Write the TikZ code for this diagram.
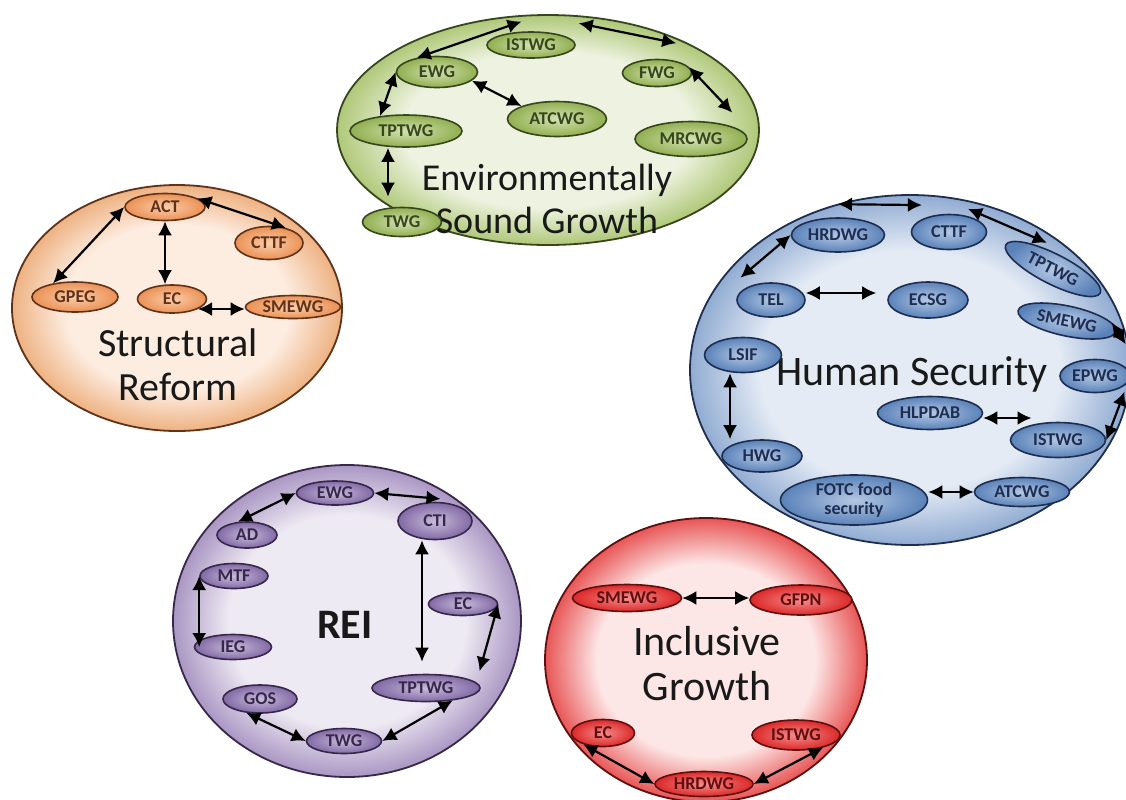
\documentclass[tikz,border=0pt]{standalone}
\usepackage{fontspec}
\setmainfont{Carlito}
\usetikzlibrary{shapes.geometric,arrows.meta}
\definecolor{glin}{RGB}{240,240,240}
\definecolor{glout}{RGB}{200,200,200}
\pgfdeclareradialshading[glin,glout]{glass}{\pgfpoint{0bp}{0bp}}{color(0bp)=(glin); color(17bp)=(glin); color(25bp)=(glout); color(50bp)=(glout)}
% group colours: line, small inner/outer, big inner/outer
\definecolor{gline}{RGB}{55,70,30}\definecolor{gin}{RGB}{210,226,178}\definecolor{gout}{RGB}{145,175,80}
\definecolor{gbin}{RGB}{238,243,225}\definecolor{gbout}{RGB}{175,200,120}
\definecolor{sline}{RGB}{95,50,25}\definecolor{sin}{RGB}{250,205,170}\definecolor{sout}{RGB}{235,145,85}
\definecolor{sbin}{RGB}{253,236,224}\definecolor{sbout}{RGB}{238,178,130}
\definecolor{hline}{RGB}{30,45,80}\definecolor{hin}{RGB}{180,200,228}\definecolor{hout}{RGB}{90,130,185}
\definecolor{hbin}{RGB}{228,235,245}\definecolor{hbout}{RGB}{145,172,210}
\definecolor{rline}{RGB}{55,40,75}\definecolor{rin}{RGB}{200,188,218}\definecolor{rout}{RGB}{130,105,165}
\definecolor{rbin}{RGB}{238,234,243}\definecolor{rbout}{RGB}{170,150,195}
\definecolor{iline}{RGB}{95,15,15}\definecolor{iin}{RGB}{245,140,140}\definecolor{iout}{RGB}{220,40,40}
\definecolor{ibin}{RGB}{253,230,230}\definecolor{ibout}{RGB}{232,85,85}
\begin{document}
\begin{tikzpicture}[x=0.5pt,y=-0.5pt,>={Latex[length=7pt,width=7pt]}]
    \tikzset{wg/.style={ellipse, inner sep=0pt, line width=0.8pt, draw=#1line, inner color=#1in, outer color=#1out,
                 text=#1line, align=center, font=\bfseries\fontsize{9}{9.5}\selectfont},
             wh/.style 2 args={minimum width=#1*0.5pt, minimum height=#2*0.5pt},
             bigc/.style={ellipse, inner sep=0pt, line width=0.9pt, draw=#1line, shading=glass},
             title/.style={align=center, text=black!90, font=\fontsize{20}{22}\selectfont},
             link/.style={<->, line width=1.1pt}}
    \useasboundingbox (0,0) rectangle (1126,799);
    % the five big circles
    \colorlet{glin}{gbin}\colorlet{glout}{gbout}
    \node[bigc=g, wh={422}{230}] (esg) at (548,130) {};
    \colorlet{glin}{sbin}\colorlet{glout}{sbout}
    \node[bigc=s, wh={330}{246}] (sr) at (177,308) {};
    \colorlet{glin}{hbin}\colorlet{glout}{hbout}
    \node[bigc=h, wh={440}{350}] (hs) at (910,370) {};
    \colorlet{glin}{rbin}\colorlet{glout}{rbout}
    \node[bigc=r, wh={348}{312}] (rei) at (347,621) {};
    \colorlet{glin}{ibin}\colorlet{glout}{ibout}
    \node[bigc=i, wh={322}{284}] (ig) at (706,660) {};
    \node[title, font=\fontsize{19}{21.5}\selectfont] (esgt) at (547,199) {Environmentally\\Sound Growth};
    \node[title] (srt) at (178,365) {Structural\\Reform};
    \node[title, font=\fontsize{21}{24}\selectfont] (hst) at (912,374) {Human Security};
    \node[title, font=\bfseries\fontsize{21}{24}\selectfont] (reit) at (345,625) {REI};
    \node[title, font=\fontsize{21}{22.5}\selectfont] (igt) at (707,664) {Inclusive\\Growth};
    % working groups
    \foreach \n/\x/\y/\w/\h in {ISTWG/531/45/88/26, EWG/437/72/81/31, FWG/657/73/69/27, ATCWG/557/119/99/35,
            TPTWG/406/131/112/32, MRCWG/691/139/112/35, TWG/402/222/79/29}
        \node[wg=g, wh={\w}{\h}] (g\n) at (\x,\y) {\n};
    \foreach \n/\x/\y/\w/\h in {ACT/165/207/80/27, CTTF/269/243/68/33, GPEG/75/297/86/30, EC/172/299/69/28,
            SMEWG/293/307/95/23}
        \node[wg=s, wh={\w}{\h}] (s\n) at (\x,\y) {\n};
    \foreach \n/\x/\y/\w/\h in {HRDWG/838/235/93/34, CTTF/949/232/75/35, TEL/771/300/68/34, ECSG/928/300/80/36,
            LSIF/743/355/77/35, EPWG/1095/376/70/33, HLPDAB/930/413/105/33, ISTWG/1058/440/95/35,
            HWG/762/456/80/32, ATCWG/1022/492/95/29}
        \node[wg=h, wh={\w}{\h}] (h\n) at (\x,\y) {\n};
    \node[wg=h, wh={106}{30}, rotate=-27] (hTPTWG) at (1053,269) {TPTWG};
    \node[wg=h, wh={100}{30}, rotate=-12] (hSMEWG) at (1067,321) {SMEWG};
    \node[wg=h, wh={147}{50}] (hFOTC) at (854,500) {FOTC food\\security};
    \foreach \n/\x/\y/\w/\h in {EWG/335/493/77/24, CTI/435/521/74/37, AD/247/535/60/26, MTF/234/576/68/25,
            EC/463/604/69/23, IEG/233/647/77/25, TPTWG/426/688/108/27, GOS/260/699/74/28, TWG/344/741/75/25}
        \node[wg=r, wh={\w}{\h}] (r\n) at (\x,\y) {\n};
    \foreach \n/\x/\y/\w/\h in {SMEWG/627/598/109/27, GFPN/801/600/102/30, EC/603/733/63/27,
            ISTWG/796/735/88/30, HRDWG/704/784/98/25}
        \node[wg=i, wh={\w}{\h}] (i\n) at (\x,\y) {\n};
    % links
    \draw[link] (gEWG.145) -- ([yshift=5pt]gISTWG.125);
    \draw[link] ([shift={(8pt,6pt)}]gISTWG.north east) -- ([shift={(5pt,8pt)}]gFWG.56);
    \draw[link] (gEWG.west) -- (gTPTWG.150);
    \draw[link] (gEWG.-14) -- (gATCWG.160);
    \draw[link] (gFWG.10) -- ([shift={(8pt,5pt)}]gMRCWG.33);
    \draw[link] ([xshift=-9pt]gTPTWG.south) -- ([shift={(-7pt,5pt)}]gTWG.north);
    \draw[link] (sACT.15) -- (sCTTF.42);
    \draw[link] (sACT.west) -- (sGPEG.148);
    \draw[link] (sACT.south) -- (sACT.south |- sEC.north);
    \draw[link] (sEC.-21) -- (sEC.-21 -| sSMEWG.west);
    \draw[link] ([yshift=6.5pt]hHRDWG.north) -- ([yshift=7pt]hCTTF.north west);
    \draw[link] (hHRDWG.west) -- ([shift={(-5pt,4pt)}]hTEL.145);
    \draw[link] ([shift={(3pt,3pt)}]hCTTF.53) -- ([yshift=3pt]hTPTWG.134);
    \draw[link] ([yshift=3.5pt]hTEL.east) -- ([shift={(-5.5pt,3.5pt)}]hECSG.west);
    \draw[link] (hSMEWG.10) -- ([shift={(8pt,8pt)}]hEPWG.47);
    \draw[link] ([xshift=7pt]hEPWG.-45) -- (hISTWG.east);
    \draw[link] ([xshift=-6.5pt]hLSIF.south) -- ([xshift=-6.5pt]hLSIF.south |- hHWG.north);
    \draw[link] ([yshift=-2.5pt]hHLPDAB.east) -- ([yshift=-2.5pt]hHLPDAB.east -| hISTWG.150);
    \draw[link] (hFOTC.east |- hATCWG.west) -- (hATCWG.west);
    \draw[link] (rEWG.west) -- (rAD.124);
    \draw[link] (rEWG.east) -- ([yshift=1.5pt]rCTI.74);
    \draw[link] (rMTF.west) -- (rMTF.west |- rIEG.west);
    \draw[link] ([xshift=-6.5pt]rCTI.south) -- ([shift={(-2pt,6pt)}]rTPTWG.north);
    \draw[link] (rEC.east) -- ([shift={(9pt,3pt)}]rTPTWG.17);
    \draw[link] (rGOS.-135) -- (rTWG.west);
    \draw[link] (rTPTWG.-25) -- (rTWG.east);
    \draw[link] (iSMEWG.east) -- (iSMEWG.east -| iGFPN.west);
    \draw[link] (iEC.-150) -- (iHRDWG.west);
    \draw[link] (iISTWG.-25) -- (iHRDWG.east);
\end{tikzpicture}
\end{document}
